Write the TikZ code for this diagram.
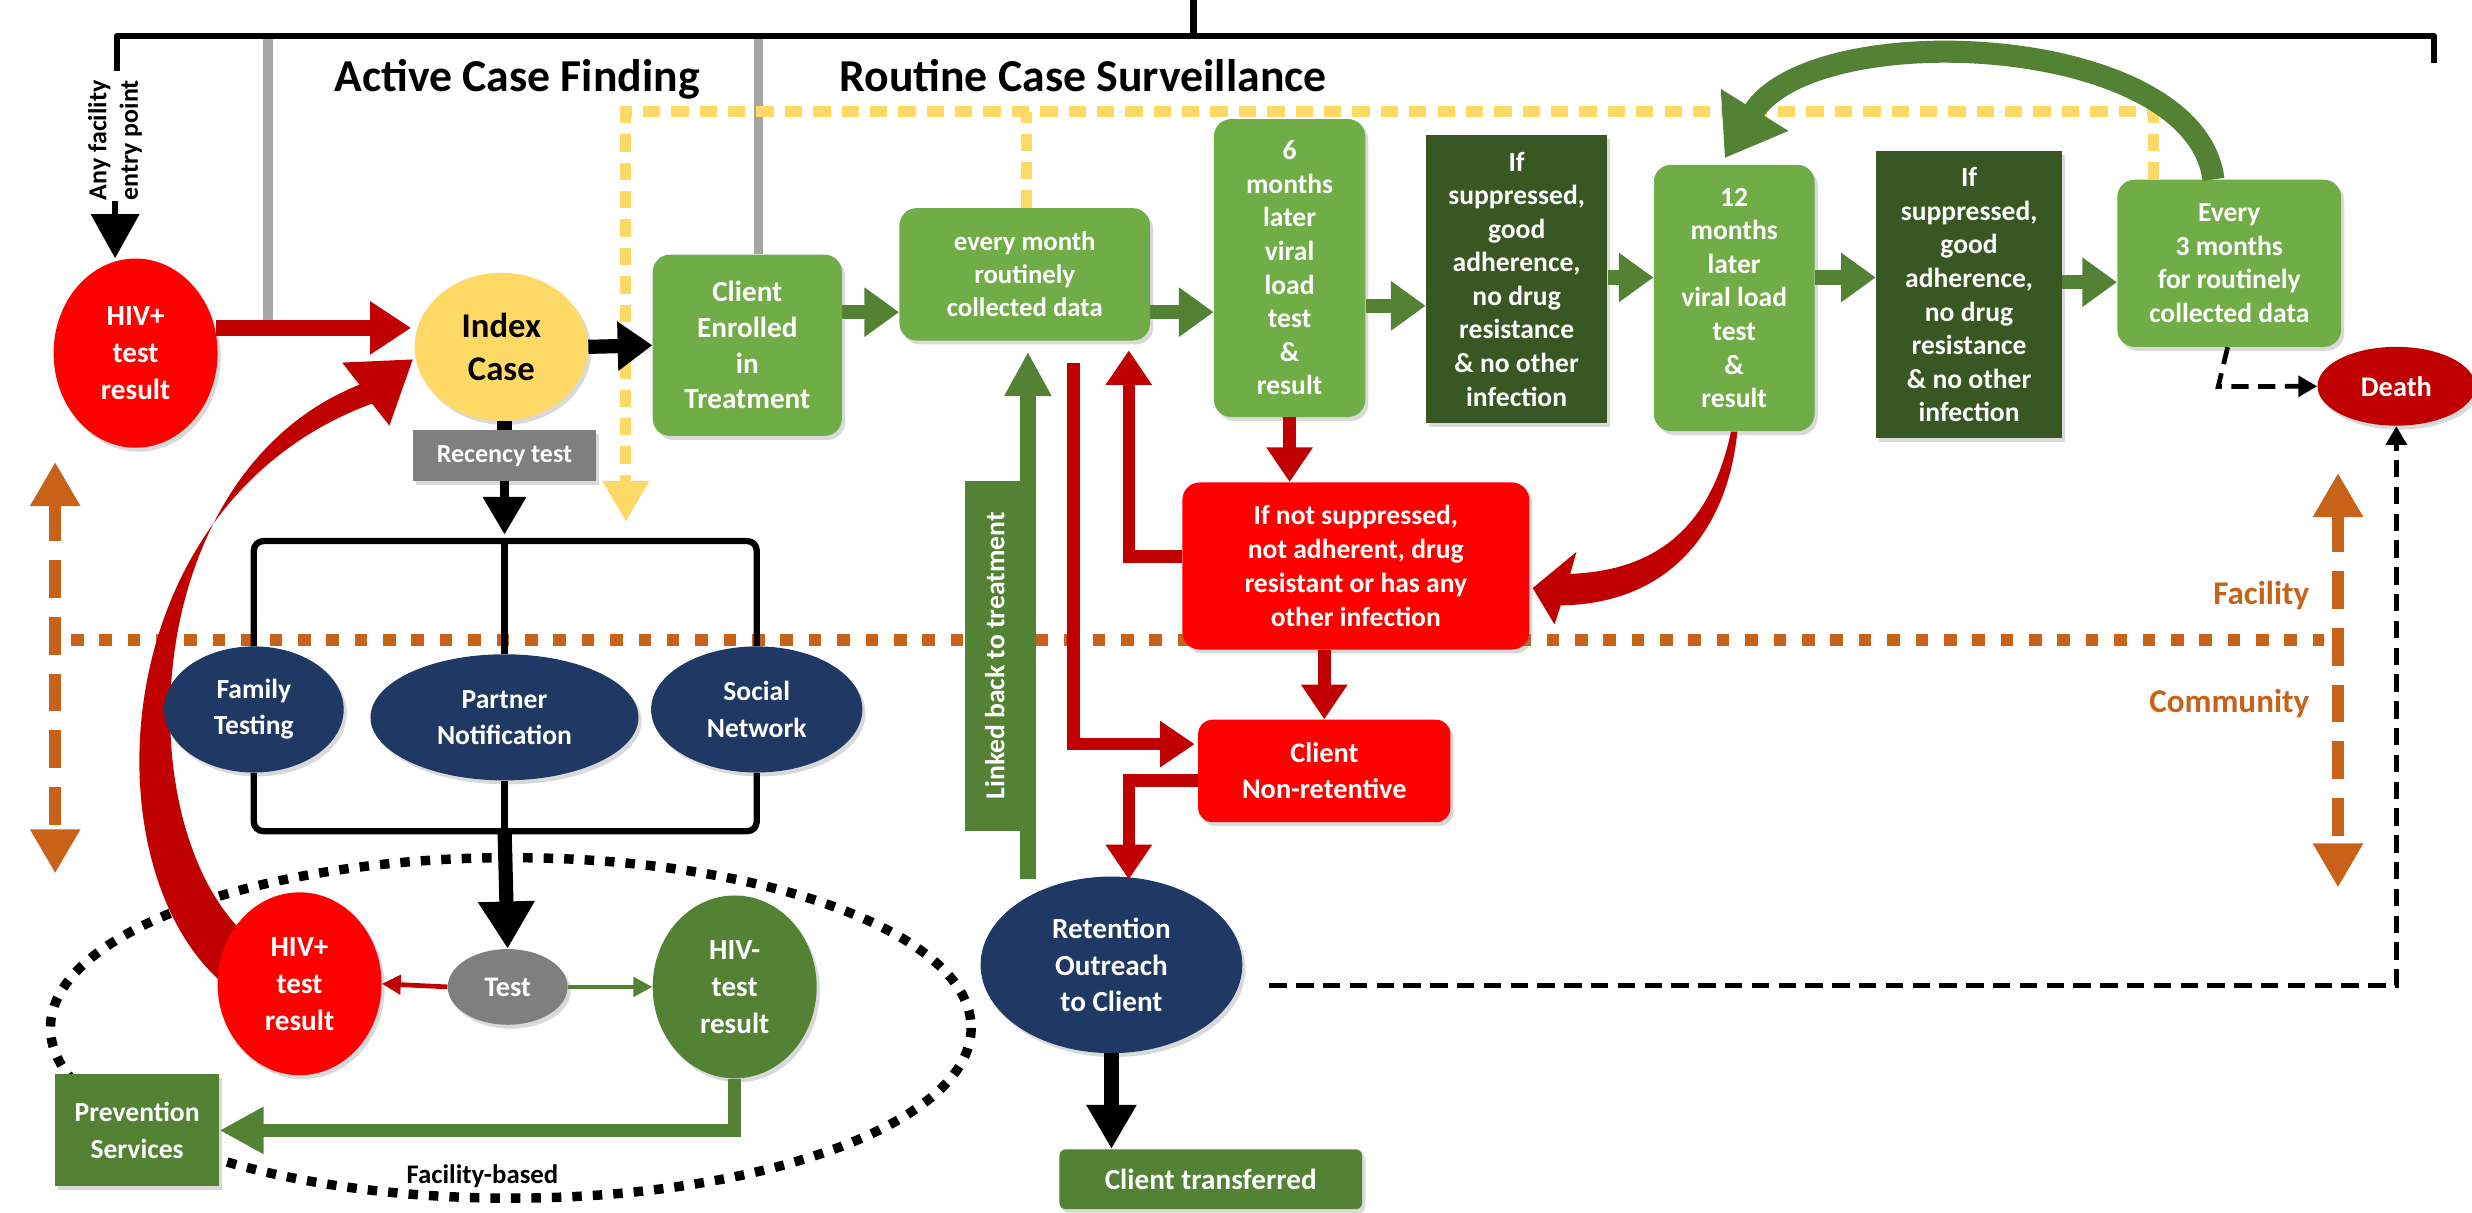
\documentclass[tikz,border=0pt]{standalone}
\usepackage{fontspec}
\setmainfont{Carlito}
\usetikzlibrary{arrows.meta,shapes.geometric,calc,shadows,backgrounds}
\definecolor{lgreen}{HTML}{70AD47}
\definecolor{mgreen}{HTML}{548235}
\definecolor{dgreen}{HTML}{385723}
\definecolor{bred}{HTML}{FF0000}
\definecolor{dred}{HTML}{C00000}
\definecolor{navy}{HTML}{203864}
\definecolor{yel}{HTML}{FFD966}
\definecolor{orng}{HTML}{C86219}
\definecolor{gry}{HTML}{7F7F7F}
\definecolor{lgry}{HTML}{A6A6A6}
\newcommand\myfs[2]{\fontsize{#1}{#2}\selectfont\bfseries}
\begin{document}
\begin{tikzpicture}[x=1pt,y=-1pt,
  base/.style={inner sep=0pt, align=center, text=white},
  shad/.style={drop shadow={opacity=0.3,shadow xshift=2pt,shadow yshift=-2.5pt}},
  lbox/.style={base, shad, fill=lgreen, rounded corners=11pt, font=\myfs{17.5}{21.3}},
  dbox/.style={base, shad, fill=dgreen, font=\myfs{17.5}{21.3}},
  rbox/.style={base, shad, fill=bred, rounded corners=11pt, font=\myfs{17.5}{21.5}},
  ell/.style={base, shad, ellipse, font=\myfs{17.5}{23}},
  garr/.style={draw=mgreen, line width=9pt, -{Triangle[width=30pt,length=22pt]}},
  rarr/.style={draw=dred, line width=8pt, -{Triangle[width=28pt,length=22pt]}},
  karr/.style={draw=black, line width=9pt, -{Triangle[width=30pt,length=22pt]}},
  tree/.style={draw=black, line width=4pt, rounded corners=6pt},
  kdash/.style={draw=black, line width=3pt, dash pattern=on 11pt off 6pt, -{Triangle[width=13pt,length=12pt]}},
  ydash/.style={draw=yel, line width=7pt, dash pattern=on 11pt off 7pt},
  odot/.style={draw=orng, line width=8pt, dash pattern=on 8pt off 10pt},
  odash/.style={draw=orng, line width=8pt, dash pattern=on 24pt off 12pt, {Triangle[width=30pt,length=28pt]}-{Triangle[width=30pt,length=28pt]}},
]
\useasboundingbox (0,0) rectangle (1568,769);

% ---------- nodes ----------
\node[base, text=black, font=\myfs{29}{33}] (acf) at (328,50) {Active Case Finding};
\node[base, text=black, font=\myfs{29}{33}] (rcs) at (687,48) {Routine Case Surveillance};
\node[base, text=black, rotate=90, font=\myfs{16.5}{20}] (entry) at (73,89) {Any facility\\entry point};

\node[ell, fill=bred, minimum width=104pt, minimum height=120pt, font=\myfs{18.5}{23.5}] (hivA) at (86,224) {HIV+\\test\\result};
\node[ell, fill=yel, text=black, minimum width=110pt, minimum height=94pt, font=\myfs{22}{27}] (index) at (318,220) {Index\\Case};
\node[base, shad, fill=gry, minimum width=116pt, minimum height=32pt, font=\myfs{16.5}{19}] (rec) at (320,289) {Recency test};

\node[lbox, minimum width=120pt, minimum height=115pt, font=\myfs{18.5}{22.6}] (enrolled) at (474,219) {Client\\Enrolled\\in\\Treatment};
\node[lbox, minimum width=159pt, minimum height=84pt, font=\myfs{17}{21}] (monthly) at (650,174) {every month\\routinely\\collected data};
\node[lbox, minimum width=96pt, minimum height=189pt] (six) at (818,170) {6\\months\\later\\viral\\load\\test\\\&\\result};
\node[dbox, minimum width=115pt, minimum height=183pt] (cond1) at (962,177) {If\\suppressed,\\good\\adherence,\\no drug\\resistance\\\& no other\\infection};
\node[lbox, minimum width=102pt, minimum height=169pt] (twelve) at (1100,189) {12\\months\\later\\viral load\\test\\\&\\result};
\node[dbox, minimum width=118pt, minimum height=182pt] (cond2) at (1249,187) {If\\suppressed,\\good\\adherence,\\no drug\\resistance\\\& no other\\infection};
\node[lbox, minimum width=142pt, minimum height=106pt] (every3) at (1414,167) {Every\\3 months\\for routinely\\collected data};
\node[ell, fill=dred, minimum width=100pt, minimum height=50pt, font=\myfs{18}{22}] (death) at (1520,245) {Death};

\node[rbox, minimum width=220pt, minimum height=106pt] (ifnot) at (860,359) {If not suppressed,\\not adherent, drug\\resistant or has any\\other infection};
\node[rbox, rounded corners=9pt, minimum width=160pt, minimum height=65pt, font=\myfs{18}{23}] (nonret) at (840,489) {Client\\Non-retentive};
\node[base, fill=mgreen, rotate=90, minimum width=222pt, minimum height=38pt, font=\myfs{17.5}{20}] (linked) at (631,416) {Linked back to treatment};
\node[ell, fill=navy, minimum width=166pt, minimum height=112pt, font=\myfs{18.5}{23}] (reten) at (705,612) {Retention\\Outreach\\to Client};
\node[base, shad, fill=mgreen, rounded corners=4pt, minimum width=192pt, minimum height=38pt, font=\myfs{18.5}{22}] (transf) at (768,748) {Client transferred};

\node[ell, fill=navy, minimum width=114pt, minimum height=80pt] (family) at (161,450) {Family\\Testing};
\node[ell, fill=navy, minimum width=170pt, minimum height=80pt] (partner) at (320,455) {Partner\\Notification};
\node[ell, fill=navy, minimum width=134pt, minimum height=80pt] (social) at (480,450) {Social\\Network};

\node[ell, fill=gry, minimum width=76pt, minimum height=48pt, font=\myfs{18}{22}] (test) at (322,626) {Test};
\node[ell, fill=bred, minimum width=104pt, minimum height=116pt, font=\myfs{18.5}{23.5}] (hivB) at (190,624) {HIV+\\test\\result};
\node[ell, fill=mgreen, minimum width=104pt, minimum height=116pt, font=\myfs{18.5}{23.5}] (hivneg) at (466,626) {HIV-\\test\\result};
\node[base, shad, fill=mgreen, minimum width=104pt, minimum height=71pt, font=\myfs{17.5}{23}] (prev) at (87,717) {Prevention\\Services};
\node[base, text=black, font=\myfs{17}{20}] (fb) at (306,746) {Facility-based};

\node[base, anchor=east, text=orng, font=\myfs{21}{24}] (fac) at (1465,378) {Facility};
\node[base, anchor=east, text=orng, font=\myfs{21}{24}] (comm) at (1465,446) {Community};

% ---------- background decorations ----------
\begin{scope}[on background layer]
  \coordinate (bL) at (74,23);
  \coordinate (bR) at (1544,23);
  \coordinate (bM) at (757,23);
  \draw[line width=4pt, line join=round] (74,45) -- (bL) -- (bR) -- (1544,40);
  \draw[line width=4pt] (757,0) -- (bM);
  \draw[draw=lgry, line width=6pt] (170,25) -- (170,203);
  \draw[draw=lgry, line width=6pt] (481,25) -- ($(enrolled.north)+(7,0)$);
  % facility / community
  \draw[odot] (45,406) -- (1474,406);
  \draw[odash] (35,293) -- (35,554);
  \draw[odash] (1483,300) -- (1483,563);
  % yellow dashed feedback
  \draw[ydash, -{Triangle[width=28pt,length=26pt]}] ($(every3.north)+(-48,0)$) |- (397,71) -- (397,331);
  \draw[ydash] ($(monthly.north)+(1,0)$) -- ($(monthly.north)+(1,-61)$);
  % facility-based dotted ellipse
  \draw[black, line width=6pt, dash pattern=on 6pt off 7pt] (324,652) ellipse [x radius=292, y radius=108];
  % curved arrow: new positive result becomes an index case
  \fill[dred] ($(hivB.west)+(9,4)$) .. controls (55,560) and (62,320) .. (236,256)
     -- (247,270) -- ($(index.west)+(-1,8)$) -- (217,230) -- (228,244)
     .. controls (88,300) and (80,520) .. ($(hivB.west)+(17,-32)$) -- cycle;
\end{scope}

% ---------- connectors ----------
\draw[line width=4pt, -{Triangle[width=30pt,length=28pt]}] (entry.west) -- (hivA.north -| entry.west);
\draw[rarr, line width=10pt, -{Triangle[width=32pt,length=26pt]}] ($(hivA.east)+(-1,-16)$) -- ($(index.west)+(-2,-12)$);
\draw[karr] (index.east) -- (enrolled.west);
\draw[line width=9pt] (index.south -| rec.north) -- (rec.north);

\coordinate (tt) at ($(rec.south)+(0,38)$);
\coordinate (tb) at ($(partner.south)+(0,32)$);
\draw[tree] (family.north) |- (tt) -| (social.north);
\draw[tree] (tt) -- (partner.north);
\draw[line width=6pt, -{Triangle[width=26pt,length=24pt]}] (rec.south) -- ($(tt)+(0,-4)$);
\draw[tree] (family.south) |- (tb) -| (social.south);
\draw[line width=4pt] (partner.south) -- (tb);
\draw[line width=9pt, -{Triangle[width=34pt,length=30pt]}] ($(tb)+(0,-2)$) -- (test.north);

\draw[draw=dred, line width=3pt, -{Triangle[width=12pt,length=12pt]}] (test.west) -- (hivB.east);
\draw[draw=mgreen, line width=3pt, -{Triangle[width=12pt,length=12pt]}] (test.east) -- (hivneg.west);
\draw[garr, line width=8pt, -{Triangle[width=28pt,length=28pt]}] (hivneg.south) |- (prev.east);

% top row
\draw[garr] ($(enrolled.east)+(0,-21)$) -- ($(monthly.west)+(0,24)$);
\draw[garr] ($(monthly.east)+(0,24)$) -- ($(six.west)+(0,28)$);
\draw[garr] ($(six.east)+(0,24)$) -- ($(cond1.west)+(0,17)$);
\draw[garr] ($(cond1.east)+(0,-1)$) -- ($(twelve.west)+(0,-13)$);
\draw[garr] ($(twelve.east)+(0,-13)$) -- ($(cond2.west)+(0,-11)$);
\draw[garr] ($(cond2.east)+(0,-8)$) -- ($(every3.west)+(0,12)$);
\draw[draw=mgreen, line width=14pt, -{Triangle[width=48pt,length=36pt]}] ($(every3.north)+(-10,0)$) .. controls (1392,20) and (1150,10) .. ($(twelve.north)+(-6,-4)$);

\draw[kdash] ($(every3.south)+(-1,0)$) -- ($(every3.south)+(-7,25)$) -- (death.west);
\draw[kdash] ($(reten.east)+(17,13)$) -| (death.south);

% red pathway
\draw[rarr] (six.south) -- (six.south |- ifnot.north);
\draw[rarr] (ifnot.south -| nonret.north) -- (nonret.north);
\draw[rarr] ($(monthly.south)+(31,14)$) |- ($(nonret.west)+(-2,-17)$);
\draw[rarr] ($(ifnot.west)+(0,-6)$) -| ($(monthly.south)+(66,6)$);
\draw[rarr] ($(nonret.west)+(0,6)$) -| ($(reten.north)+(11,2)$);
\fill[dred] ($(twelve.south)+(-2,0)$) .. controls (1085,335) and (1050,362) .. (996,364) -- (1000,350) -- ($(ifnot.east)+(2,14)$) -- (986,396) -- (990,384) .. controls (1060,383) and (1096,335) .. ($(twelve.south)+(2,0)$) -- cycle;

\draw[draw=mgreen, line width=10pt, -{Triangle[width=28pt,length=28pt]}] ($(reten.north)+(-53,2)$) -- ($(monthly.south)+(2,7)$);
\draw[karr, line width=10pt, -{Triangle[width=30pt,length=28pt]}] (reten.south) -- (reten.south |- transf.north);
\end{tikzpicture}
\end{document}
